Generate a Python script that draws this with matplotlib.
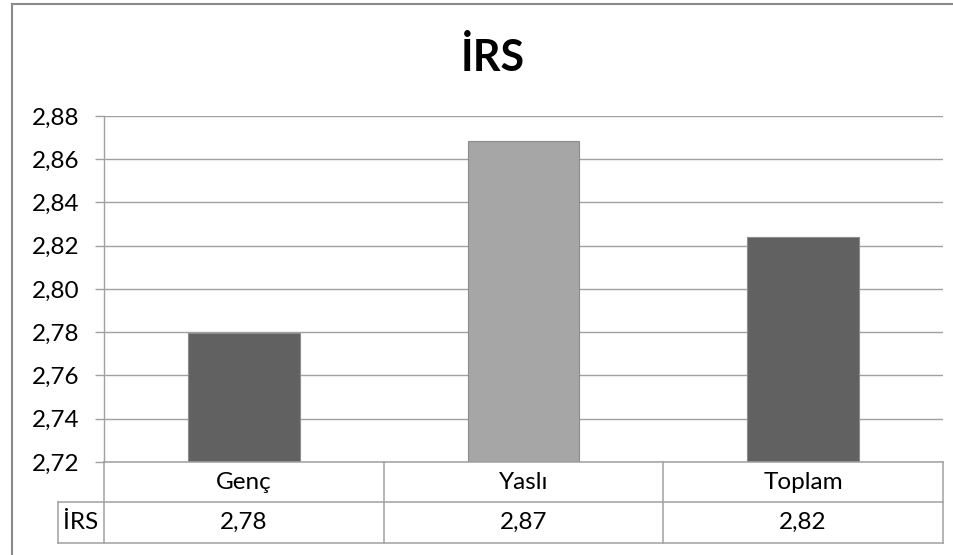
import matplotlib
matplotlib.use("Agg")
import matplotlib.pyplot as plt
from matplotlib.ticker import FuncFormatter, MultipleLocator
from matplotlib.lines import Line2D

# İRS ortalamaları
kategoriler = ["Genç", "Yaslı", "Toplam"]
irs_degerleri = [2.7797, 2.8684, 2.8240]
seri_adi = "İRS"
renkler = ["#616161", "#A6A6A6", "#616161"]

plt.rcParams["font.family"] = ["Lato", "DejaVu Sans"]

W, H = 954, 555
fig = plt.figure(figsize=(W / 100, H / 100), dpi=100)

def px(x0, y0, x1, y1):
    # piksel kutusunu figür koordinatlarına çevir
    return [x0 / W, 1 - y1 / H, (x1 - x0) / W, (y1 - y0) / H]

grid_renk = "#A0A0A0"
yazi = 17.5

ax = fig.add_axes(px(104, 116, 943, 462))
x = range(len(kategoriler))
ax.bar(x, irs_degerleri, width=0.4, color=renkler, edgecolor="#8C8C8C",
       linewidth=0.8, zorder=3)
ax.set_xlim(-0.5, len(kategoriler) - 0.5)
ax.set_ylim(2.72, 2.88)
ax.yaxis.set_major_locator(MultipleLocator(0.02))
ax.yaxis.set_major_formatter(FuncFormatter(lambda v, p: f"{v:.2f}".replace(".", ",")))
ax.grid(axis="y", color=grid_renk, linewidth=1.0, zorder=0)
ax.set_xticks([])
ax.tick_params(axis="y", length=6.5, width=1.0, color=grid_renk, pad=11,
               labelsize=yazi)
for s in ["top", "right", "bottom"]:
    ax.spines[s].set_visible(False)
ax.spines["left"].set_color(grid_renk)
ax.spines["left"].set_linewidth(1.0)

fig.text(493 / W, 1 - 57 / H, "İRS", ha="center", va="center",
         fontsize=31, fontweight="bold")

# veri tablosu
tab = fig.add_axes(px(58, 462, 943, 543))
sol = -0.5 - (104 - 58) / (943 - 104) * 3
tab.set_xlim(sol, 2.5)
tab.set_ylim(0, 2)
tab.axis("off")
lw = 1.1
def cizgi(xs, ys):
    tab.add_line(Line2D(xs, ys, color=grid_renk, linewidth=lw, clip_on=False))

cizgi([-0.5, 2.5], [2, 2])
cizgi([sol, 2.5], [1.02, 1.02])
cizgi([sol, 2.5], [0, 0])
cizgi([sol, sol], [0, 1.02])
for i in range(len(kategoriler) + 1):
    cizgi([i - 0.5, i - 0.5], [0, 2])
for i, (k, v) in enumerate(zip(kategoriler, irs_degerleri)):
    tab.text(i, 1.5, k, ha="center", va="center", fontsize=yazi)
    tab.text(i, 0.5, f"{v:.2f}".replace(".", ","), ha="center", va="center",
             fontsize=yazi)
tab.text((sol - 0.5) / 2, 0.5, seri_adi, ha="center", va="center", fontsize=yazi)

# grafik alanı çerçevesi
fig.add_artist(Line2D([12 / W, 1.0], [1 - 3.5 / H, 1 - 3.5 / H],
                      color="#8A8A8A", linewidth=1.5, transform=fig.transFigure))
fig.add_artist(Line2D([12 / W, 12 / W], [0.0, 1 - 3.5 / H],
                      color="#8A8A8A", linewidth=1.5, transform=fig.transFigure))

fig.savefig("out.png", dpi=100)
